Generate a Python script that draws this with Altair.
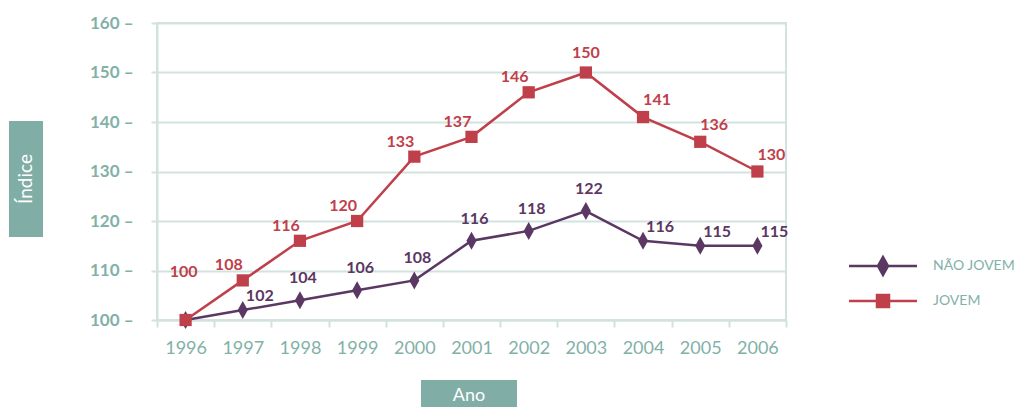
import altair as alt
import pandas as pd

years = ["1996", "1997", "1998", "1999", "2000", "2001", "2002", "2003", "2004", "2005", "2006"]
nao_jovem = [100, 102, 104, 106, 108, 116, 118, 122, 116, 115, 115]
jovem = [100, 108, 116, 120, 133, 137, 146, 150, 141, 136, 130]
series_names = ["NÃO JOVEM", "JOVEM"]
y_ticks = [100, 110, 120, 130, 140, 150, 160]
y_title = "Índice"
x_title = "Ano"

rows = []
for name, vals in zip(series_names, [nao_jovem, jovem]):
    for yr, v in zip(years, vals):
        rows.append({"ano": yr, "serie": name, "indice": v, "rotulo": str(v)})
df = pd.DataFrame(rows)

RED = "#bf404a"
PURPLE = "#5b3763"
TEAL = "#82b1a8"
GRID = "#d2e3df"
BOX = "#80ada5"
FONT = "Lato"

DIAMOND = "M0,-1L0.56,0L0,1L-0.56,0Z"
LEG_DIAMOND = "M-6.8,0H6.8M0,-1.8L1,0L0,1.8L-1,0Z"
LEG_SQUARE = "M-6.8,0H6.8M-1.2,-1.2H1.2V1.2H-1.2Z"

color_scale = alt.Scale(domain=series_names, range=[PURPLE, RED])

legend = alt.Legend(
    title=None,
    orient="none",
    legendX=719,
    legendY=236,
    padding=0,
    symbolSize=100,
    symbolStrokeWidth=2.5,
    symbolType={"expr": "datum.value === 'JOVEM' ? '%s' : '%s'" % (LEG_SQUARE, LEG_DIAMOND)},
    symbolFillColor={"expr": "datum.value === 'JOVEM' ? '%s' : '%s'" % (RED, PURPLE)},
    symbolStrokeColor={"expr": "datum.value === 'JOVEM' ? '%s' : '%s'" % (RED, PURPLE)},
    symbolOpacity=1,
    rowPadding=10,
    labelOffset=43,
    labelFont=FONT,
    labelFontSize=14,
    labelColor=TEAL,
    labelLimit=200,
)

x_enc = alt.X(
    "ano:O",
    title=None,
    sort=years,
    scale=alt.Scale(type="band", paddingInner=0, paddingOuter=0),
    axis=alt.Axis(
        labelFont=FONT,
        labelFontSize=18,
        labelColor=TEAL,
        labelAngle=0,
        labelPadding=12,
        tickBand="extent",
        tickColor=GRID,
        tickWidth=2,
        tickSize=7,
        domainColor=GRID,
        domainWidth=2,
        grid=False,
    ),
)
y_enc = alt.Y(
    "indice:Q",
    title=None,
    scale=alt.Scale(domain=[100, 160], nice=False, zero=False),
    axis=alt.Axis(
        values=y_ticks,
        labelExpr="datum.label + ' –'",
        labelFont=FONT,
        labelFontSize=17,
        labelFontWeight="bold",
        labelColor=TEAL,
        labelPadding=18,
        tickColor=GRID,
        tickWidth=2,
        tickSize=6,
        domainColor=GRID,
        domainWidth=2,
        gridColor=GRID,
        gridWidth=2,
    ),
)

color_enc = alt.Color("serie:N", scale=color_scale, legend=legend)

base = alt.Chart(df)

lines = base.mark_line(strokeWidth=2.5).encode(
    x=x_enc,
    y=y_enc,
    color=color_enc,
    detail="serie:N",
)

points_nj = base.transform_filter("datum.serie === 'NÃO JOVEM'").mark_point(
    filled=True, opacity=1, shape=DIAMOND, size=324
).encode(x=x_enc, y=y_enc, color=color_enc)

points_j = base.transform_filter("datum.serie === 'JOVEM'").mark_point(
    filled=True, opacity=1, shape="square", size=150
).encode(x=x_enc, y=y_enc, color=color_enc)

def labels(cond, dx, dy):
    return base.transform_filter(cond).mark_text(
        font=FONT, fontSize=16, fontWeight="bold", dx=dx, dy=dy, baseline="middle"
    ).encode(
        x=x_enc,
        y=y_enc,
        text="rotulo:N",
        color=color_enc,
    )

lab_red_first = labels("datum.serie === 'JOVEM' && datum.ano === '1996'", -2, -48)
lab_red_left = labels("datum.serie === 'JOVEM' && datum.ano > '1996' && datum.ano < '2003'", -14, -15)
lab_red_top = labels("datum.serie === 'JOVEM' && datum.ano === '2003'", 0, -20)
lab_red_right = labels("datum.serie === 'JOVEM' && datum.ano > '2003'", 14, -17)
lab_pur_right = labels("datum.serie === 'NÃO JOVEM' && (datum.ano === '1997' || datum.ano > '2003')", 17, -14)
lab_pur_top = labels("datum.serie === 'NÃO JOVEM' && datum.ano > '1997' && datum.ano <= '2003'", 3, -22)

box_df = pd.DataFrame({"t": [y_title]})
ybox = alt.Chart(box_df).mark_rect(color=BOX).encode(
    x=alt.value(-148), x2=alt.value(-114), y=alt.value(98), y2=alt.value(214)
)
ytext = alt.Chart(box_df).mark_text(
    font=FONT, fontSize=19, color="white", angle=270, baseline="middle", align="center"
).encode(x=alt.value(-131), y=alt.value(156), text="t:N")

xbox_df = pd.DataFrame({"t": [x_title]})
xbox = alt.Chart(xbox_df).mark_rect(color=BOX).encode(
    x=alt.value(264), x2=alt.value(360), y=alt.value(357), y2=alt.value(395)
)
xtext = alt.Chart(xbox_df).mark_text(
    font=FONT, fontSize=18, color="white", baseline="middle", align="center"
).encode(x=alt.value(312), y=alt.value(373), text="t:N")

chart = alt.layer(
    lines, points_nj, points_j,
    lab_red_first, lab_red_left, lab_red_top, lab_red_right, lab_pur_right, lab_pur_top,
    ybox, ytext, xbox, xtext,
).properties(
    width=629,
    height=297,
    autosize=alt.AutoSizeParams(type="none"),
    padding={"left": 149, "top": 15, "right": 230, "bottom": 87},
).configure_view(stroke=GRID, strokeWidth=2)

chart.save("out.html", embed_options={"renderer": "svg", "actions": False})
